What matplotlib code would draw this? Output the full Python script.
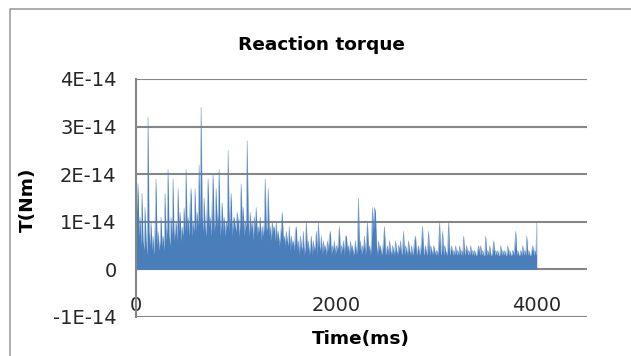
import matplotlib
matplotlib.use("Agg")
import matplotlib.pyplot as plt
import numpy as np
from matplotlib.lines import Line2D

plt.rcParams['font.family'] = ['DejaVu Sans']

torque_0_1000 = [21, 12, 18, 7, 11, 5, 16, 6, 4, 13,
                 6, 3, 32, 8, 5, 10, 4, 7, 3, 9,
                 19, 5, 8, 4, 6, 11, 5, 7, 4, 16,
                 6, 9, 21, 7, 5, 11, 7, 19, 6, 8,
                 10, 6, 17, 8, 12, 6, 9, 7, 13, 8,
                 21, 8, 11, 7, 14, 17, 7, 10, 8, 17,
                 8, 12, 9, 22, 9, 34, 11, 8, 15, 9,
                 7, 13, 19, 9, 11, 7, 14, 20, 8, 10,
                 17, 9, 12, 21, 7, 10, 14, 8, 11, 7,
                 10, 9, 25, 8, 12, 16, 7, 10, 11, 9]
torque_1000_2000 = [8, 12, 10, 7, 11, 18, 9, 13, 7, 10,
                    9, 27, 10, 7, 12, 8, 10, 6, 11, 9,
                    13, 7, 9, 8, 11, 6, 9, 7, 10, 19,
                    8, 9, 17, 7, 9, 6, 10, 8, 9, 6,
                    10, 6, 8, 5, 7, 9, 12, 6, 7, 5,
                    8, 6, 5, 9, 4, 7, 5, 6, 4, 8,
                    9, 4, 6, 3, 7, 5, 4, 8, 3, 5,
                    10, 4, 6, 3, 5, 7, 3, 6, 4, 5,
                    8, 3, 10, 5, 4, 7, 3, 6, 4, 5,
                    3, 6, 4, 7, 8, 3, 5, 4, 6, 3]
torque_2000_3000 = [5, 4, 6, 9, 3, 5, 4, 6, 3, 7,
                    7, 4, 5, 3, 6, 4, 5, 3, 4, 6,
                    3, 5, 15, 4, 6, 3, 5, 4, 7, 3,
                    6, 10, 4, 5, 3, 6, 13, 8, 13, 12,
                    5, 3, 6, 4, 5, 3, 4, 6, 9, 3,
                    4, 5, 3, 6, 4, 3, 5, 4, 3, 6,
                    4, 3, 5, 4, 6, 3, 4, 8, 3, 5,
                    4, 3, 6, 4, 3, 5, 3, 4, 6, 7,
                    3, 4, 5, 3, 4, 6, 9, 3, 4, 5,
                    3, 4, 8, 3, 5, 4, 3, 5, 4, 3]
torque_3000_4000 = [4, 3, 5, 10, 3, 4, 8, 3, 5, 4,
                    3, 4, 10, 3, 4, 5, 3, 4, 3, 5,
                    3, 4, 3, 5, 3, 4, 3, 7, 3, 4,
                    5, 3, 4, 3, 5, 3, 4, 3, 4, 3,
                    3, 4, 5, 3, 5, 3, 4, 3, 3, 7,
                    3, 4, 3, 5, 3, 3, 4, 6, 3, 4,
                    3, 4, 3, 3, 5, 3, 4, 3, 4, 3,
                    3, 5, 3, 4, 3, 3, 4, 3, 5, 8,
                    3, 4, 3, 3, 4, 3, 5, 3, 4, 3,
                    7, 3, 4, 3, 3, 4, 5, 3, 4, 3, 10]

torque = np.array(torque_0_1000 + torque_1000_2000 + torque_2000_3000 + torque_3000_4000) * 1e-15
time_ms = np.arange(len(torque)) * 10

y_ticks = [-1e-14, 0, 1e-14, 2e-14, 3e-14, 4e-14]
y_labels = ["-1E-14", "0", "1E-14", "2E-14", "3E-14", "4E-14"]
x_ticks = [0, 2000, 4000]
x_labels = ["0", "2000", "4000"]

blue = "#4a7ebb"
grid_grey = "#868686"
text_col = "#262626"

fig = plt.figure(figsize=(6.31, 3.56), dpi=100)
ax = fig.add_axes([0.2155, 0.1096, 0.7145, 0.6685])

# the dense trace reads as a filled forest of spikes
ax.fill_between(time_ms, 0, torque, color=blue, linewidth=0)
ax.plot(time_ms, torque, color=blue, linewidth=0.4, alpha=0.7)

ax.set_xlim(0, 4500)
ax.set_ylim(-1e-14, 4e-14)
ax.set_yticks(y_ticks)
ax.set_yticklabels(y_labels)
ax.set_xticks(x_ticks)
ax.set_xticklabels(x_labels)

for yv in y_ticks:
    ax.axhline(yv, color=grid_grey, linewidth=1.5, zorder=0)

for s in ["top", "right", "bottom"]:
    ax.spines[s].set_visible(False)
ax.spines["left"].set_color(grid_grey)
ax.spines["left"].set_linewidth(1.5)

ax.tick_params(axis="y", length=0, pad=14, labelsize=14, labelcolor=text_col)
# x labels sit just above the bottom gridline, inside the plot area
ax.tick_params(axis="x", length=0, pad=-15, labelsize=14, labelcolor=text_col)

fig.text(0.5095, 0.874, "Reaction torque", ha="center", va="center",
         fontsize=13.3, fontweight="bold", color="black")
fig.text(0.044, 1 - 200 / 356, "T(Nm)", ha="center", va="center",
         rotation=90, fontsize=13.3, fontweight="bold", color="black")
fig.text(361 / 631, 1 - 339 / 356, "Time(ms)", ha="center", va="center",
         fontsize=13.3, fontweight="bold", color="black")

# chart frame (left and top edges are visible in the crop)
fig.add_artist(Line2D([0.0158, 0.0158, 1.0], [0.0, 0.9747, 0.9747],
                      transform=fig.transFigure, color="#a0a0a0", linewidth=1.2))

fig.savefig("out.png", dpi=100)
